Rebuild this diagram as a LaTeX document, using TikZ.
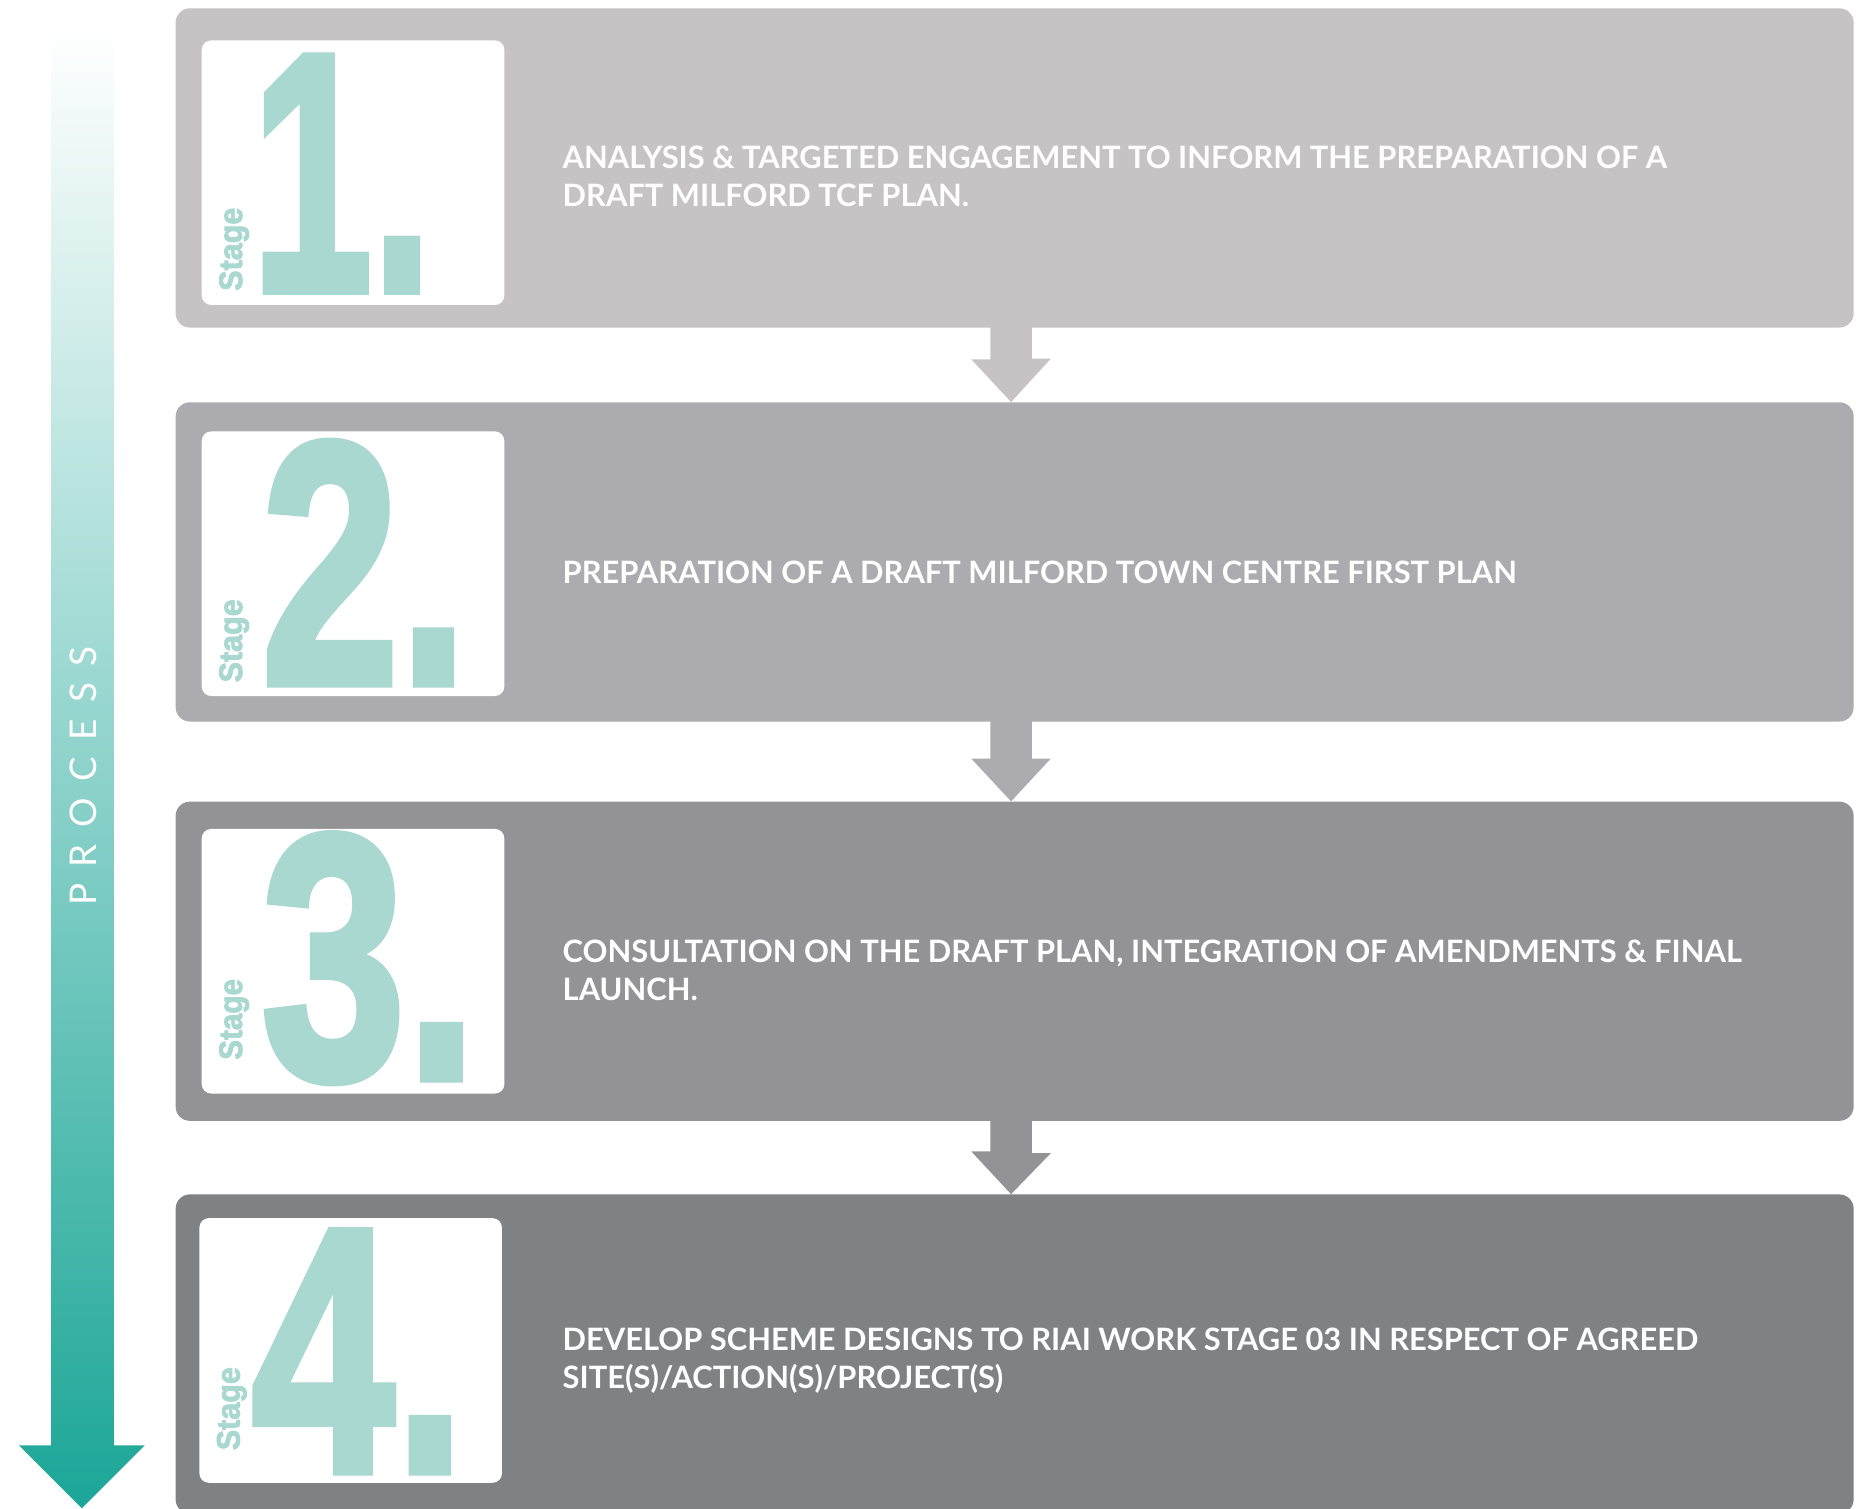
\documentclass[tikz,border=0pt]{standalone}
\usepackage{fontspec}
\usepackage{graphicx}
\usepackage{tikz}
\usetikzlibrary{calc}
\newfontfamily\bodyfont{Lato}
\newfontfamily\numfont[FakeBold=2.5]{Liberation Sans}
\newfontfamily\procfont[LetterSpace=45]{Lato}
\definecolor{boxa}{RGB}{198,195,196}
\definecolor{boxb}{RGB}{172,171,175}
\definecolor{boxc}{RGB}{147,147,149}
\definecolor{boxd}{RGB}{127,129,131}
\definecolor{numteal}{RGB}{168,216,208}
\definecolor{procteal}{RGB}{27,166,151}
\definecolor{procmid}{RGB}{118,201,189}

\begin{document}
\begin{tikzpicture}[x=1pt,y=-1pt,
  stagebox/.style={rectangle,rounded corners=12pt,inner sep=0pt,minimum width=1414pt,minimum height=269pt},
  numbox/.style={rectangle,fill=white,rounded corners=8pt,inner sep=0pt,minimum width=255pt,minimum height=223pt},
  bignum/.style={anchor=south west,inner sep=0pt,text=numteal,font=\numfont\bfseries},
  stagelabel/.style={anchor=south,inner sep=0pt,rotate=90,text=numteal,font=\numfont\bfseries},
  stagetext/.style={anchor=west,inner sep=0pt,align=left,text=white,font=\bodyfont\bfseries\fontsize{26}{32}\selectfont}]
\useasboundingbox (0,0) rectangle (1564,1271);
%  the process arrow on the left
\shade[top color=white,middle color=procmid,bottom color=procteal]
  (43,25) -- (96,25) -- (96,1218) -- (122,1218) -- (69,1271) -- (16,1218) -- (43,1218) -- cycle;
\node[rotate=90,text=white,font=\procfont\fontsize{31}{31}\selectfont] (proc) at (70,654) {PROCESS};
%  the four stage boxes
\node[stagebox,fill=boxa] (s1) at (855,141.5) {};
\node[stagebox,fill=boxb] (s2) at (855,473.5) {};
\node[stagebox,fill=boxc] (s3) at (855,810) {};
\node[stagebox,fill=boxd] (s4) at (855,1141) {};
%  arrows from box to box
\fill[boxa] ($(s1.south)+(-20.5,-1)$) -- ++(35,0) -- ++(0,27) -- ++(16,0) -- ($(s2.north)+(-3,0)$) -- ++(-33.5,-36) -- ++(16,0) -- cycle;
\fill[boxb] ($(s2.south)+(-20.5,-1)$) -- ++(35,0) -- ++(0,32) -- ++(16,0) -- ($(s3.north)+(-3,0)$) -- ++(-33.5,-36) -- ++(16,0) -- cycle;
\fill[boxc] ($(s3.south)+(-20.5,-1)$) -- ++(35,0) -- ++(0,28) -- ++(16,0) -- ($(s4.north)+(-3,0)$) -- ++(-33.5,-36) -- ++(16,0) -- cycle;
%  Stage 1
\node[numbox] (w1) at (297.5,145.5) {};
\node[bignum] (n1) at (212,245) {\resizebox{152pt}{197pt}{1.}};
\node[stagelabel] (l1) at (210,210) {\resizebox*{70pt}{25pt}{Stage}};
\node[stagetext] (t1) at (474,149) {ANALYSIS \& TARGETED ENGAGEMENT TO INFORM THE PREPARATION OF A\\DRAFT MILFORD TCF PLAN.};
%  Stage 2
\node[numbox] (w2) at (297.5,475) {};
\node[bignum] (n2) at (220,576) {\resizebox{174pt}{203pt}{2.}};
\node[stagelabel] (l2) at (210,540) {\resizebox*{70pt}{25pt}{Stage}};
\node[stagetext] (t2) at (474,482) {PREPARATION OF A DRAFT MILFORD TOWN CENTRE FIRST PLAN};
%  Stage 3
\node[numbox] (w3) at (297.5,810) {};
\node[bignum] (n3) at (220,912) {\resizebox{182pt}{205pt}{3.}};
\node[stagelabel] (l3) at (210,859) {\resizebox*{68pt}{25pt}{Stage}};
\node[stagetext] (t3) at (474,817.5) {CONSULTATION ON THE DRAFT PLAN, INTEGRATION OF AMENDMENTS \& FINAL\\LAUNCH.};
%  Stage 4
\node[numbox] (w4) at (295.5,1138) {};
\node[bignum] (n4) at (212,1240) {\resizebox{180pt}{202pt}{4.}};
\node[stagelabel] (l4) at (208,1187) {\resizebox*{70pt}{25pt}{Stage}};
\node[stagetext] (t4) at (474,1146.5) {DEVELOP SCHEME DESIGNS TO RIAI WORK STAGE 03 IN RESPECT OF AGREED\\SITE(S)/ACTION(S)/PROJECT(S)};
\end{tikzpicture}
\end{document}
